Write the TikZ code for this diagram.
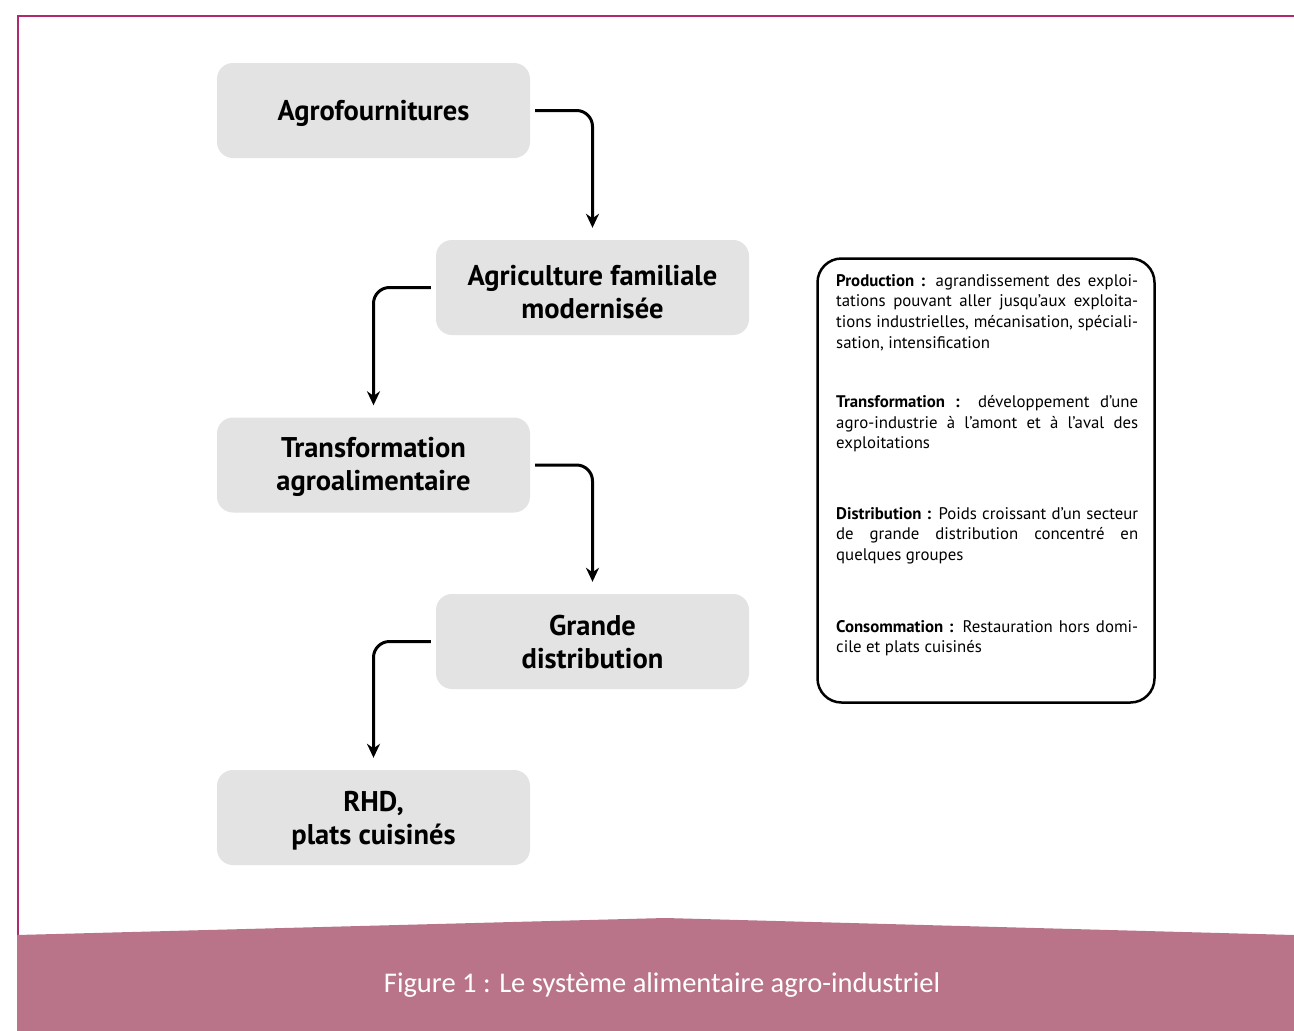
\documentclass[tikz,border=0pt]{standalone}
\usepackage{fontspec}
\setmainfont{PT Sans}
\newfontfamily\capfont{Carlito}
\usetikzlibrary{arrows.meta}
\definecolor{framec}{RGB}{178,40,110}
\definecolor{bandc}{RGB}{185,116,137}
\definecolor{boxc}{RGB}{227,227,227}
\newcommand{\fl}[1]{\makebox[302pt][s]{#1}}
\begin{document}
\begin{tikzpicture}[x=1pt,y=-1pt,
 stage/.style={fill=boxc, rounded corners=16pt, minimum width=313pt, minimum height=95pt, inner sep=0pt},
 stagetext/.style={font=\fontsize{28.5}{33}\selectfont\bfseries, align=center, inner sep=0pt},
 flow/.style={line width=3pt, rounded corners=16pt, -{Stealth[length=14pt,width=13pt]},
   shorten <=5pt, shorten >=12pt},
 para/.style={anchor=north west, inner sep=0pt, align=left,
   font=\fontsize{16.8}{20.7}\selectfont},
]
\useasboundingbox (0,0) rectangle (1294,1031);
\fill[white] (0,0) rectangle (1294,1031);
\draw[framec, line width=2pt] (18,935) -- (18,16) -- (1294,16);
\fill[bandc] (17,935) -- (665,918) -- (1294,935) -- (1294,1031) -- (17,1031) -- cycle;

\node[stage] (a) at (373.5,110.5) {};
\node[stage] (b) at (592.5,287.5) {};
\node[stage] (c) at (373.5,465) {};
\node[stage] (d) at (592.5,641.5) {};
\node[stage] (e) at (373.5,817.5) {};
\node[stagetext] (at) at ([yshift=-3pt]a.center) {Agrofournitures};
\node[stagetext] (bt) at ([yshift=-5pt]b.center) {Agriculture familiale\\modernisée};
\node[stagetext] (ct) at ([yshift=-2pt]c.center) {Transformation\\agroalimentaire};
\node[stagetext] (dt) at ([yshift=-1pt]d.center) {Grande\\distribution};
\node[stagetext] (et) at ([yshift=-3pt]e.center) {RHD,\\plats cuisinés};

\draw[flow] (a.east) -| (b.north);
\draw[flow] (b.west) -| (c.north);
\draw[flow] (c.east) -| (d.north);
\draw[flow] (d.west) -| (e.north);

\node[draw, line width=2.5pt, rounded corners=24pt, minimum width=337pt, minimum height=444pt] (info) at (986,480.5) {};

\node[para] (p1) at (836,274) {\fl{\textbf{Production :} agrandissement des exploi-}\\
\fl{tations pouvant aller jusqu’aux exploita-}\\
\fl{tions industrielles, mécanisation, spéciali-}\\
sation, intensification};
\node[para] (p2) at (836,395) {\fl{\textbf{Transformation :} développement d’une}\\
\fl{agro-industrie à l’amont et à l’aval des}\\
exploitations};
\node[para] (p3) at (836,507) {\fl{\textbf{Distribution :} Poids croissant d’un secteur}\\
\fl{de grande distribution concentré en}\\
quelques groupes};
\node[para] (p4) at (836,620) {\fl{\textbf{Consommation :} Restauration hors domi-}\\
cile et plats cuisinés};

\node[font=\capfont\fontsize{28.5}{30}\selectfont, text=white] (cap) at (662,985) {Figure 1 : Le système alimentaire agro-industriel};
\end{tikzpicture}
\end{document}
